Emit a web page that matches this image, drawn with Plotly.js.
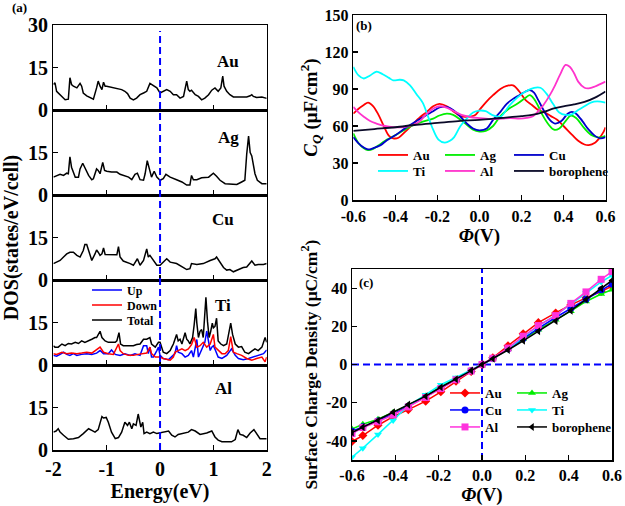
<!DOCTYPE html>
<html><head><meta charset="utf-8">
<script src="https://cdn.plot.ly/plotly-3.0.1.min.js"></script>
<style>html,body{margin:0;padding:0;background:#fff}#chart{width:625px;height:506px}</style>
</head><body><div id="chart"></div>
<script>
// ---------- Panel (a): DOS ----------
const auEnergy = [-2.0,-1.97,-1.94,-1.875,-1.78,-1.72,-1.69,-1.66,-1.625,-1.56,-1.5,-1.47,-1.44,-1.375,-1.28,-1.25,-1.19,-1.16,-1.125,-1.09,-1.06,-1.03,-1.0,-0.94,-0.84,-0.78,-0.72,-0.66,-0.61,-0.56,-0.5,-0.44,-0.375,-0.31,-0.25,-0.19,-0.125,-0.06,0.0,0.06,0.125,0.19,0.25,0.31,0.375,0.44,0.5,0.53,0.56,0.59,0.66,0.72,0.78,0.84,0.91,0.97,1.03,1.09,1.14,1.175,1.2,1.25,1.31,1.375,1.5,1.625,1.69,1.72,1.75,1.81,1.91,1.97,2.0];
const auDos = [9.0,9.6,6.6,5.4,3.6,3.8,11.4,9.0,8.4,7.8,9.4,8.4,6.0,5.0,4.2,3.8,7.8,10.2,8.4,7.2,9.8,8.4,8.4,8.2,7.8,7.4,7.2,6.6,5.8,4.2,3.6,4.2,5.4,6.0,6.6,9.4,8.6,7.8,6.0,6.6,7.2,6.6,5.4,5.4,4.2,4.8,10.2,7.2,6.6,7.0,5.4,4.8,3.6,4.2,5.4,7.0,7.8,6.6,7.8,12.0,8.4,6.6,5.4,4.6,4.6,4.6,5.0,5.4,4.8,4.4,4.6,4.1,4.1];

const agEnergy = [-2.0,-1.94,-1.875,-1.81,-1.75,-1.72,-1.69,-1.66,-1.625,-1.59,-1.53,-1.5,-1.45,-1.41,-1.34,-1.28,-1.25,-1.19,-1.16,-1.125,-1.075,-1.04,-1.0,-0.91,-0.81,-0.75,-0.69,-0.59,-0.53,-0.47,-0.425,-0.375,-0.31,-0.28,-0.24,-0.2,-0.16,-0.11,-0.06,0.0,0.06,0.11,0.19,0.31,0.41,0.5,0.56,0.59,0.625,0.69,0.78,0.91,1.0,1.06,1.125,1.22,1.34,1.44,1.53,1.59,1.625,1.66,1.69,1.72,1.78,1.825,1.91,2.0];
const agDos = [6.3,6.9,7.3,6.9,7.7,7.5,13.5,9.8,8.1,6.3,6.3,9.2,11.2,9.8,6.9,5.4,5.7,9.2,8.7,7.5,11.5,8.7,8.4,8.1,8.1,7.3,6.9,6.3,5.4,7.3,7.7,5.4,5.2,7.5,12.1,8.9,6.3,8.4,6.3,5.2,5.8,7.3,6.3,5.4,4.6,3.5,3.5,6.9,5.4,5.4,6.1,6.3,7.7,6.6,5.2,4.0,3.8,3.7,4.6,5.2,14.4,20.8,15.0,13.8,7.5,5.2,4.0,4.0];

const cuEnergy = [-2.0,-1.94,-1.875,-1.81,-1.75,-1.69,-1.625,-1.56,-1.5,-1.44,-1.41,-1.375,-1.34,-1.31,-1.28,-1.22,-1.19,-1.16,-1.125,-1.09,-1.06,-1.03,-0.97,-0.91,-0.81,-0.78,-0.75,-0.69,-0.625,-0.56,-0.5,-0.45,-0.425,-0.375,-0.31,-0.25,-0.22,-0.19,-0.125,-0.06,0.0,0.06,0.125,0.19,0.31,0.44,0.5,0.56,0.59,0.69,0.81,0.94,1.03,1.06,1.125,1.19,1.25,1.31,1.375,1.44,1.5,1.56,1.625,1.69,1.72,1.78,1.84,1.94,2.0];
const cuDos = [5.8,6.3,6.9,8.1,9.2,9.8,9.8,8.7,8.1,10.4,12.5,12.5,10.4,8.1,6.9,9.2,10.6,9.8,8.7,9.2,11.3,9.0,8.9,8.9,8.9,11.8,8.1,6.7,6.3,5.8,5.2,6.9,7.5,5.2,6.9,11.0,8.1,8.7,6.9,5.2,5.2,6.3,7.5,6.3,5.8,4.4,3.7,4.0,5.8,5.5,5.8,6.9,7.5,8.1,6.3,4.4,3.5,3.7,2.9,3.5,3.9,4.4,4.6,6.3,6.7,5.2,5.5,5.5,5.8];

const tiEnergy = [-2.0,-1.97,-1.91,-1.84,-1.78,-1.72,-1.66,-1.59,-1.53,-1.47,-1.41,-1.34,-1.28,-1.22,-1.19,-1.125,-1.09,-1.03,-0.97,-0.91,-0.84,-0.81,-0.77,-0.74,-0.69,-0.625,-0.56,-0.5,-0.44,-0.375,-0.31,-0.25,-0.19,-0.16,-0.09,-0.06,-0.03,0.0,0.03,0.06,0.125,0.19,0.22,0.25,0.28,0.31,0.34,0.375,0.41,0.47,0.5,0.53,0.56,0.61,0.64,0.67,0.69,0.72,0.75,0.78,0.81,0.84,0.86,0.89,0.92,0.95,0.98,1.0,1.03,1.06,1.09,1.14,1.19,1.25,1.29,1.325,1.36,1.41,1.47,1.53,1.59,1.66,1.72,1.78,1.84,1.91,1.97,2.0];
const tiTotal = [6.8,6.3,6.3,7.4,6.8,7.6,7.4,8.0,7.6,8.5,8.0,8.5,9.1,9.7,9.7,11.9,9.7,8.5,8.0,8.0,8.0,8.5,11.4,7.4,6.8,6.8,6.8,6.8,7.2,7.4,9.1,9.1,9.7,7.4,6.3,7.4,8.0,8.0,5.7,4.5,4.0,5.1,6.3,7.4,9.1,10.8,8.5,9.1,7.4,11.4,9.1,8.5,7.4,9.7,14.2,19.9,14.8,9.7,11.9,12.5,9.7,16.5,23.9,15.3,9.7,11.9,14.8,13.1,13.6,16.5,8.5,7.4,6.8,7.4,10.8,14.8,10.8,7.4,6.3,6.5,4.5,4.0,4.9,5.7,5.1,6.3,9.7,8.0];
const tiUpEnergy = [-2.0,-1.94,-1.875,-1.81,-1.75,-1.69,-1.625,-1.56,-1.47,-1.375,-1.28,-1.19,-1.125,-1.06,-0.97,-0.91,-0.84,-0.75,-0.66,-0.56,-0.47,-0.375,-0.31,-0.25,-0.22,-0.19,-0.16,-0.125,-0.06,-0.03,0.0,0.06,0.16,0.22,0.28,0.31,0.34,0.41,0.47,0.53,0.59,0.625,0.66,0.69,0.72,0.78,0.84,0.875,0.94,0.97,1.0,1.04,1.09,1.16,1.25,1.34,1.41,1.47,1.56,1.66,1.75,1.84,1.94,2.0];
const tiUp = [3.4,3.1,3.75,4.5,3.75,3.4,4.0,3.4,3.75,4.0,3.75,4.2,5.1,4.0,4.0,5.3,3.75,3.4,4.0,3.4,4.0,3.4,6.8,6.8,4.0,6.3,2.8,2.8,5.1,6.3,3.4,2.3,1.9,2.8,4.0,6.8,4.5,4.0,2.8,3.4,5.1,2.8,6.3,9.0,2.8,5.1,8.0,12.0,5.1,6.3,6.8,5.1,2.8,2.3,3.4,5.7,3.4,2.3,1.9,2.3,2.8,3.4,4.0,5.3];
const tiDownEnergy = [-2.0,-1.94,-1.84,-1.75,-1.66,-1.56,-1.47,-1.375,-1.28,-1.19,-1.125,-1.06,-0.97,-0.875,-0.78,-0.75,-0.69,-0.59,-0.5,-0.41,-0.31,-0.25,-0.19,-0.16,-0.09,0.0,0.06,0.125,0.19,0.25,0.28,0.34,0.41,0.47,0.53,0.59,0.64,0.69,0.75,0.81,0.875,0.94,1.0,1.03,1.09,1.16,1.22,1.28,1.325,1.375,1.44,1.53,1.625,1.72,1.81,1.91,1.97,2.0];
const tiDown = [4.0,3.75,4.5,4.0,4.2,4.0,4.2,4.5,4.2,5.3,6.3,4.5,4.0,3.75,7.4,5.1,4.0,3.4,3.4,3.75,4.0,4.2,6.3,4.0,2.8,2.8,2.3,1.9,1.7,2.8,4.5,5.1,5.7,5.1,5.7,7.2,9.7,6.3,6.8,8.0,6.3,7.4,10.8,6.3,5.1,4.0,4.0,5.1,10.0,4.5,4.0,3.4,2.3,1.7,2.3,2.8,1.1,2.8];

const alEnergy = [-2.0,-1.95,-1.91,-1.875,-1.81,-1.72,-1.625,-1.53,-1.44,-1.34,-1.28,-1.22,-1.16,-1.09,-1.06,-1.01,-0.97,-0.91,-0.84,-0.78,-0.72,-0.66,-0.61,-0.575,-0.53,-0.5,-0.45,-0.41,-0.36,-0.325,-0.3,-0.25,-0.19,-0.125,-0.06,0.0,0.06,0.16,0.22,0.28,0.34,0.44,0.53,0.59,0.66,0.75,0.875,0.97,1.03,1.09,1.16,1.25,1.34,1.41,1.46,1.5,1.56,1.625,1.69,1.76,1.81,1.875,1.97,2.0];
const alDos = [6.3,6.7,7.5,6.3,5.2,3.8,4.0,4.4,5.8,7.5,6.9,6.3,7.2,11.8,11.3,11.5,9.8,6.3,4.0,4.4,6.3,9.8,8.7,9.8,7.5,9.2,8.7,12.7,8.1,9.8,5.8,6.3,5.8,6.3,5.8,6.0,6.3,6.7,5.2,4.6,5.5,5.8,6.3,7.2,6.7,5.5,6.0,6.7,4.6,3.5,2.9,2.9,2.9,3.7,7.2,5.5,5.2,4.4,6.0,7.2,5.8,4.0,4.0,4.0];

const dosPanels = ['Au','Ag','Cu','Ti','Al'];
const energyTicks = [-2,-1,0,1,2];
const energyTickText = ['-2','-1','0','1','2'];
const fermiLevel = 0;

// ---------- Panel (b): quantum capacitance ----------
const cqSeries = ['Au','Ag','Cu','Ti','Al','borophene'];
const cqAuPhi = [-0.6,-0.575,-0.55,-0.53,-0.505,-0.48,-0.455,-0.43,-0.41,-0.385,-0.355,-0.32,-0.28,-0.25,-0.22,-0.19,-0.155,-0.125,-0.09,-0.06,-0.02,0.0,0.035,0.065,0.1,0.13,0.16,0.19,0.22,0.25,0.28,0.31,0.34,0.37,0.4,0.44,0.47,0.5,0.52,0.55,0.57,0.59,0.6];
const cqAu = [70,74,77,79,76,69,60,52,50,50.5,55,61,67.5,71.5,76,78,76,72,68,67.5,69,73,80,85,90,92.5,93,88,81,77,73,71,68,65,60,53,48,45,44.5,46.5,50,55,59];
const cqAgPhi = [-0.6,-0.575,-0.55,-0.53,-0.505,-0.47,-0.44,-0.4,-0.36,-0.31,-0.27,-0.22,-0.19,-0.155,-0.125,-0.09,-0.06,-0.03,0.0,0.03,0.065,0.1,0.14,0.18,0.22,0.24,0.26,0.28,0.3,0.33,0.355,0.38,0.41,0.435,0.46,0.5,0.53,0.56,0.585,0.6];
const cqAg = [54,46,42,40.5,41.5,45.5,49,52.5,56.5,61,63.5,66,68.5,70,69,65,61,57,55.5,56,60,68,74,78,83,85,82,76,69,61,57,58,64,68.5,66.5,58,53,51,51,52];
const cqCuPhi = [-0.6,-0.575,-0.55,-0.53,-0.505,-0.47,-0.44,-0.4,-0.355,-0.305,-0.265,-0.225,-0.19,-0.155,-0.125,-0.09,-0.06,-0.03,0.0,0.035,0.065,0.1,0.13,0.16,0.19,0.22,0.24,0.26,0.28,0.305,0.335,0.36,0.39,0.42,0.44,0.46,0.49,0.52,0.55,0.575,0.6];
const cqCu = [51,46,42.5,41,42,44.5,48.5,52.5,58,63.5,67.5,71.5,75,75.5,73,67.5,62,58,56.5,58,65,71.5,78,82,85,88,89,87,81,73,65,62,64,70,71.5,70,64,57,52,50,51];
const cqTiPhi = [-0.6,-0.575,-0.55,-0.52,-0.49,-0.46,-0.43,-0.41,-0.38,-0.36,-0.33,-0.3,-0.27,-0.245,-0.22,-0.195,-0.165,-0.14,-0.12,-0.09,-0.06,-0.03,0.0,0.03,0.06,0.1,0.14,0.18,0.22,0.26,0.29,0.32,0.35,0.38,0.41,0.44,0.47,0.5,0.53,0.56,0.6];
const cqTi = [108,101,98.5,101,104,102,99,97,97.5,97,93,86,79,68,57,49,46.5,48,51,60,66,71,72.5,72,69,67.5,76,83,88,91,91,86,78,71,69,69.5,73,76,79,80,79];
const cqAlPhi = [-0.6,-0.575,-0.55,-0.52,-0.49,-0.45,-0.41,-0.37,-0.33,-0.29,-0.25,-0.21,-0.18,-0.15,-0.115,-0.085,-0.05,-0.01,0.03,0.07,0.11,0.15,0.19,0.225,0.255,0.28,0.305,0.335,0.36,0.385,0.41,0.43,0.45,0.47,0.5,0.52,0.55,0.575,0.6];
const cqAl = [75.5,71,67.5,64,62,60,59,59,60,63,70,75,76,74.5,71.5,69,67.5,66.5,66,65.5,66,66.5,66,66.5,68,72,77,85,93,102,109.5,108,103,96,91,90.5,92,94,96];
const cqBoroPhi = [-0.6,-0.5,-0.4,-0.3,-0.2,-0.1,0.0,0.1,0.2,0.25,0.3,0.35,0.4,0.45,0.5,0.55,0.6];
const cqBoro = [56,57.5,59,61,62.5,64,65,66.5,68,69,71,74,76,77.5,79.5,83,88];
const phiTicks = [-0.6,-0.4,-0.2,0,0.2,0.4,0.6];
const phiTickText = ['-0.6','-0.4','-0.2','0.0','0.2','0.4','0.6'];
const cqTicks = [0,30,60,90,120,150];

// ---------- Panel (c): surface charge density ----------
const chargePhi = [-0.6,-0.55,-0.48,-0.41,-0.34,-0.26,-0.19,-0.12,-0.05,0,0.05,0.12,0.19,0.26,0.34,0.41,0.48,0.55,0.6];
const chargeAu = [-40.3,-37.2,-31.8,-27.3,-23.6,-19.2,-14.3,-8.8,-3.6,0,3.5,9.8,16.1,21.9,27.0,31.2,34.9,38.2,41.0];
const chargeAg = [-33.8,-31.3,-28.6,-25.0,-21.3,-16.5,-11.6,-7.5,-3.2,0,3.1,8.0,13.3,18.2,23.4,27.9,33.0,36.9,39.2];
const chargeCu = [-35.0,-32.6,-29.6,-26.0,-21.8,-17.0,-12.2,-7.8,-3.3,0,3.2,8.2,13.6,18.9,24.6,29.4,34.2,39.2,42.2];
const chargeTi = [-48.5,-43.8,-36.6,-29.3,-21.6,-15.8,-10.6,-6.8,-3.0,0,3.0,8.0,14.3,20.2,25.8,31.8,37.4,43.2,46.6];
const chargeAl = [-36.2,-33.0,-30.0,-26.4,-22.2,-17.3,-12.6,-8.0,-3.4,0,3.3,8.6,14.8,20.4,25.6,32.0,38.0,44.6,48.6];
const chargeBoro = [-35.6,-32.8,-29.3,-25.0,-21.0,-16.6,-11.9,-7.7,-3.2,0,3.0,7.6,12.4,17.4,22.8,28.2,34.0,39.8,44.0];
const chargeTicks = [-40,-20,0,20,40];
const chargeTickText = ['-40','-20','0','20','40'];

// ---------- styles ----------
const W = 625, H = 506;
const FONT = 'Liberation Serif, Times New Roman, serif';
const fx = p => p / W;
const fy = p => 1 - p / H;

const traces = [];
const dosData = {
  Au: [auEnergy, auDos], Ag: [agEnergy, agDos], Cu: [cuEnergy, cuDos], Al: [alEnergy, alDos]
};
dosPanels.forEach((m, i) => {
  const ax = i + 1;
  const xa = 'x' + ax, ya = 'y' + ax;
  if (m === 'Ti') {
    traces.push({x: tiUpEnergy, y: tiUp, xaxis: xa, yaxis: ya, mode: 'lines', name: 'Up',
      line: {color: '#0000ff', width: 1.5}, legend: 'legend'});
    traces.push({x: tiDownEnergy, y: tiDown, xaxis: xa, yaxis: ya, mode: 'lines', name: 'Down',
      line: {color: '#ff0000', width: 1.5}, legend: 'legend2'});
    traces.push({x: tiEnergy, y: tiTotal, xaxis: xa, yaxis: ya, mode: 'lines', name: 'Total',
      line: {color: '#000000', width: 1.5}, legend: 'legend3'});
  } else {
    traces.push({x: dosData[m][0], y: dosData[m][1], xaxis: xa, yaxis: ya, mode: 'lines',
      name: m + ' DOS', showlegend: false, line: {color: '#000000', width: 1.5}});
  }
});

const cqColors = {Au: '#ff0000', Ag: '#00ee00', Cu: '#0000cc', Ti: '#00ffff', Al: '#ff33cc', borophene: '#0a0a28'};
const cqData = {
  Au: [cqAuPhi, cqAu], Ag: [cqAgPhi, cqAg], Cu: [cqCuPhi, cqCu],
  Ti: [cqTiPhi, cqTi], Al: [cqAlPhi, cqAl], borophene: [cqBoroPhi, cqBoro]
};
const cqColWidth = {Au: 22, Ti: 22, Ag: 24, Al: 24};
cqSeries.forEach((s, i) => {
  const tr = {x: cqData[s][0], y: cqData[s][1], xaxis: 'x6', yaxis: 'y6', mode: 'lines', name: s,
    line: {color: cqColors[s], width: 1.8, shape: 'spline', smoothing: 1},
    legend: i < 3 ? 'legend4' : 'legend5'};
  if (cqColWidth[s]) tr.legendwidth = cqColWidth[s];
  traces.push(tr);
});

const chColors = {Au: '#ff0000', Ag: '#00ee00', Cu: '#0000ff', Ti: '#00ffff', Al: '#ff33dd', borophene: '#000000'};
const chSymbols = {Au: 'diamond', Ag: 'triangle-up', Cu: 'circle', Ti: 'triangle-down', Al: 'square', borophene: 'triangle-left'};
const chData = {Au: chargeAu, Ag: chargeAg, Cu: chargeCu, Ti: chargeTi, Al: chargeAl, borophene: chargeBoro};
const chLegend = {Au: 'legend6', Ag: 'legend6', Cu: 'legend7', Ti: 'legend7', Al: 'legend8', borophene: 'legend8'};
const chColWidth = {Au: 22, Cu: 22, Al: 22};
cqSeries.forEach(s => {
  const tr = {x: chargePhi, y: chData[s], xaxis: 'x7', yaxis: 'y7', mode: 'lines+markers', name: s,
    line: {color: chColors[s], width: 1.5},
    marker: {color: chColors[s], symbol: chSymbols[s], size: 7},
    legend: chLegend[s]};
  if (chColWidth[s]) tr.legendwidth = chColWidth[s];
  traces.push(tr);
});

const axisBase = {
  showline: true, mirror: true, linecolor: '#000', linewidth: 1.5,
  ticks: 'inside', ticklen: 5, tickwidth: 1.2, tickcolor: '#000',
  showgrid: false, zeroline: false, fixedrange: true,
  tickfont: {family: FONT, size: 16, color: '#000', weight: 'bold'}
};

const layout = {
  width: W, height: H, margin: {l: 0, r: 0, t: 0, b: 0},
  paper_bgcolor: '#fff', plot_bgcolor: '#fff',
  font: {family: FONT, color: '#000'},
  shapes: [], annotations: []
};

const rowEdges = [25, 110, 195, 280, 365, 450];
const aX = [fx(53.4), fx(266.7)];
dosPanels.forEach((m, i) => {
  const ax = i + 1;
  layout['xaxis' + ax] = Object.assign({}, axisBase, {
    domain: aX, range: [-2, 2], anchor: 'y' + ax,
    tickvals: energyTicks, ticktext: energyTickText,
    showticklabels: i === 4,
    tickfont: {family: FONT, size: 20, color: '#000', weight: 'bold'}
  });
  layout['yaxis' + ax] = Object.assign({}, axisBase, {
    domain: [fy(rowEdges[i + 1]), fy(rowEdges[i])], range: [0, 30], anchor: 'x' + ax,
    tickvals: i === 0 ? [0, 15, 30] : [0, 15],
    ticktext: i === 0 ? ['0', '15', '30'] : ['0', '15'],
    tickfont: {family: FONT, size: 20, color: '#000', weight: 'bold'}
  });
  layout.annotations.push({xref: 'paper', yref: 'paper', x: fx(i < 2 ? 228 : 223),
    y: fy([62, 137, 220, 305, 388][i]), xanchor: 'center', yanchor: 'middle',
    text: '<b>' + m + '</b>', showarrow: false,
    font: {family: FONT, size: 17, color: '#000'}});
});
layout.xaxis5.title = {text: '<b>Energy(eV)</b>', font: {family: FONT, size: 20, color: '#000'}, standoff: 0};
layout.yaxis3.title = {text: '<b>DOS(states/eV/cell)</b>', font: {family: FONT, size: 20, color: '#000'}, standoff: 6};

layout.shapes.push({type: 'line', xref: 'x5', yref: 'paper', x0: fermiLevel, x1: fermiLevel,
  y0: fy(450), y1: fy(31), line: {color: '#0000ff', width: 2, dash: '7px,4px'}});

// panel (b)
layout.xaxis6 = Object.assign({}, axisBase, {
  domain: [fx(353.3), fx(605.5)], range: [-0.6, 0.6], anchor: 'y6',
  tickvals: phiTicks, ticktext: phiTickText, ticklabelstandoff: 1,
  title: {text: '<b><i>Φ</i>(V)</b>', font: {family: FONT, size: 19, color: '#000'}, standoff: 0}
});
layout.yaxis6 = Object.assign({}, axisBase, {
  domain: [fy(200), fy(15)], range: [0, 150], anchor: 'x6',
  tickvals: cqTicks,
  title: {text: '<b><i>C<sub>Q</sub></i> (μF/cm<sup>2</sup>)</b>', font: {family: FONT, size: 19, color: '#000'}, standoff: 2}
});

// panel (c)
layout.xaxis7 = Object.assign({}, axisBase, {
  domain: [fx(352), fx(612)], range: [-0.6, 0.6], anchor: 'y7',
  tickvals: phiTicks, ticktext: phiTickText,
  title: {text: '<b><i>Φ</i>(V)</b>', font: {family: FONT, size: 19, color: '#000'}, standoff: 0}
});
layout.yaxis7 = Object.assign({}, axisBase, {
  domain: [fy(460), fy(269)], range: [-50, 50], anchor: 'x7',
  tickvals: chargeTicks, ticktext: chargeTickText,
  title: {text: '<b>Surface Charge Density (μC/cm<sup>2</sup>)</b>', font: {family: FONT, size: 17.5, color: '#000'}, standoff: 4}
});
layout.shapes.push({type: 'line', xref: 'x7', yref: 'y7', x0: -0.6, x1: 0.6, y0: 0, y1: 0,
  layer: 'below', line: {color: '#0000ff', width: 2, dash: '7px,4px'}});
layout.shapes.push({type: 'line', xref: 'x7', yref: 'y7', x0: 0, x1: 0, y0: -50, y1: 50,
  layer: 'below', line: {color: '#0000ff', width: 2, dash: '7px,4px'}});

// panel labels
[['(a)', 19, 7], ['(b)', 364, 25], ['(c)', 366, 282]].forEach(([t, x, y]) => {
  layout.annotations.push({xref: 'paper', yref: 'paper', x: fx(x), y: fy(y),
    xanchor: 'center', yanchor: 'middle', text: '<b>' + t + '</b>',
    showarrow: false, font: {family: FONT, size: 13, color: '#000'}});
});

// legends
const legBase = {orientation: 'h', xanchor: 'left', yanchor: 'middle', bgcolor: 'rgba(0,0,0,0)',
  borderwidth: 0, tracegroupgap: 0, itemclick: false,
  font: {family: FONT, size: 13, color: '#000', weight: 'bold'}};
const legPos = {
  legend: [87, 290], legend2: [87, 305], legend3: [87, 320],
  legend4: [373, 155], legend5: [373, 171],
  legend6: [445, 393], legend7: [445, 410], legend8: [445, 427]
};
Object.keys(legPos).forEach(k => {
  layout[k] = Object.assign({}, legBase, {x: fx(legPos[k][0]), y: fy(legPos[k][1])});
});
['legend', 'legend2', 'legend3'].forEach(k => { layout[k].font = {family: FONT, size: 12, color: '#000', weight: 'bold'}; });

Plotly.newPlot('chart', traces, layout, {staticPlot: true, displayModeBar: false});
</script></body></html>
